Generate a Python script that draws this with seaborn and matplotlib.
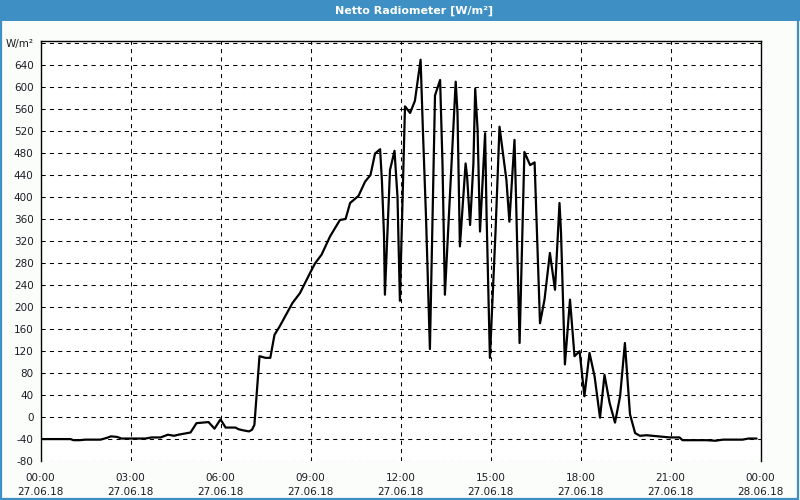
import matplotlib
matplotlib.use("Agg")
import matplotlib.pyplot as plt
from matplotlib.patches import Rectangle
import seaborn as sns
import pandas as pd

# ---- data (hours since 27.06.18 00:00, net radiation W/m²) ----
hours = [0.0, 0.5, 1.0, 1.1, 1.3, 1.5, 2.0, 2.2, 2.35, 2.55, 2.7, 3.0, 3.5, 3.7, 4.0,
         4.25, 4.45, 4.6, 4.8, 5.0, 5.2, 5.4, 5.6, 5.8, 6.0, 6.17, 6.5, 6.6, 6.75, 6.95,
         7.05, 7.13, 7.3, 7.5, 7.66, 7.8, 7.97, 8.4, 8.65, 8.98, 9.15, 9.37, 9.65, 9.98,
         10.17, 10.32, 10.6, 10.82, 11.0, 11.15, 11.32, 11.38, 11.45, 11.48, 11.65, 11.8,
         11.9, 11.98, 12.15, 12.32, 12.48, 12.67, 12.75, 12.85, 12.98, 13.15, 13.32, 13.4,
         13.48, 13.84, 13.9, 13.98, 14.17, 14.22, 14.32, 14.43, 14.49, 14.57, 14.65, 14.82,
         14.87, 14.98, 15.17, 15.3, 15.53, 15.63, 15.8, 15.85, 15.97, 16.13, 16.32, 16.47,
         16.65, 16.8, 16.98, 17.15, 17.3, 17.35, 17.48, 17.65, 17.8, 17.97, 18.13, 18.3,
         18.47, 18.65, 18.8, 18.97, 19.15, 19.32, 19.48, 19.65, 19.82, 19.98, 20.2, 20.4,
         20.98, 21.3, 21.4, 22.2, 22.5, 22.75, 23.4, 23.6, 23.87]
values = [-41, -41, -41, -43, -43, -42, -42, -39, -36, -37, -40, -40, -40, -38, -38,
          -33, -35, -33, -31, -29, -12, -11, -10, -22, -5, -20, -20, -23, -25, -27,
          -24, -15, 110, 107, 107, 149, 164, 207, 225, 261, 279, 295, 328, 358,
          360, 389, 402, 428, 440, 479, 487, 430, 330, 222, 449, 484,
          400, 211, 565, 553, 575, 650, 516, 364, 123, 585, 613, 460,
          222, 610, 553, 310, 461, 437, 349, 461, 597, 522, 337, 516,
          364, 107, 340, 528, 431, 355, 504, 400, 134, 482, 458, 463,
          170, 213, 298, 231, 389, 336, 95, 213, 110, 119, 37, 116,
          73, -2, 76, 25, -11, 37, 134, 4, -30, -35, -34, -35,
          -38, -38, -43, -43, -44, -42, -42, -40, -40]

x_tick_hours = [0, 3, 6, 9, 12, 15, 18, 21, 24]
x_tick_labels = ["00:00\n27.06.18", "03:00\n27.06.18", "06:00\n27.06.18", "09:00\n27.06.18",
                 "12:00\n27.06.18", "15:00\n27.06.18", "18:00\n27.06.18", "21:00\n27.06.18",
                 "00:00\n28.06.18"]
y_ticks = list(range(-80, 681, 40))
y_tick_labels = [str(v) for v in y_ticks[:-1]] + ["W/m²"]
title = "Netto Radiometer [W/m²]"

df = pd.DataFrame({"hour": hours, "value": values})

sns.set_style("white")
plt.rcParams["font.family"] = ["DejaVu Sans"]

BLUE = "#3d8fc4"
TXT = "#1c1c24"

fig = plt.figure(figsize=(8, 5), dpi=100, facecolor="#fbfdfb")
ax = fig.add_axes([40.5 / 800, 1 - 460.5 / 500, 720 / 800, 420 / 500])
ax.set_facecolor("white")

sns.lineplot(data=df, x="hour", y="value", ax=ax, color="black", linewidth=1.6,
             errorbar=None, sort=False)

ax.set_xlim(0, 24)
ax.set_ylim(-80, 685)
ax.set_xticks(x_tick_hours)
ax.set_xticklabels(x_tick_labels, fontsize=7.5, color=TXT, linespacing=1.55)
ax.set_xticks(range(0, 25), minor=True)
ax.set_yticks(y_ticks)
ax.set_yticklabels(y_tick_labels, fontsize=7.5, color=TXT)
ax.set_xlabel("")
ax.set_ylabel("")

ax.grid(True, which="major", color="black", linewidth=0.75, linestyle=(0, (4, 4)))
ax.tick_params(axis="x", which="both", direction="out", length=3, width=0.75,
               color="black", pad=6)
ax.tick_params(axis="y", which="both", length=0, pad=5)

for side in ["left", "top", "right"]:
    ax.spines[side].set_visible(True)
    ax.spines[side].set_color("black")
    ax.spines[side].set_linewidth(1.0)
ax.spines["bottom"].set_visible(False)

# title bar and frame
fig.patches.append(Rectangle((0, 1 - 21 / 500), 1, 21 / 500, transform=fig.transFigure,
                             facecolor=BLUE, edgecolor="none", zorder=0))
fig.patches.append(Rectangle((0.001, 0.002), 0.997, 0.996, transform=fig.transFigure,
                             facecolor="none", edgecolor=BLUE, linewidth=1.6, zorder=0))
fig.text(414 / 800, 1 - 10.5 / 500, title, color="white", fontsize=8, fontweight="bold",
         ha="center", va="center")

fig.savefig("out.png", dpi=100, facecolor=fig.get_facecolor())
